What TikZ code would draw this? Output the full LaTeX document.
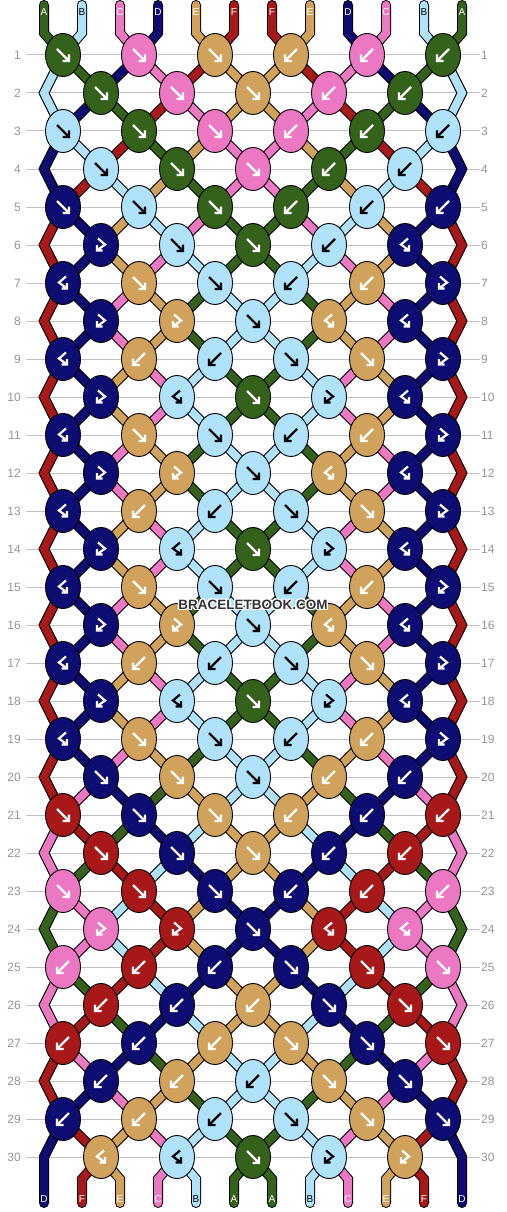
\documentclass[tikz,border=0pt]{standalone}
\usepackage{fontspec}
\setmainfont{Liberation Sans}
\usetikzlibrary{shapes.geometric}
\definecolor{colA}{RGB}{52,98,26}
\definecolor{colB}{RGB}{176,226,252}
\definecolor{colC}{RGB}{236,120,196}
\definecolor{colD}{RGB}{12,12,114}
\definecolor{colE}{RGB}{208,162,92}
\definecolor{colF}{RGB}{168,24,24}
\colorlet{arrA}{white}\colorlet{arrB}{black}\colorlet{arrC}{white}
\colorlet{arrD}{white}\colorlet{arrE}{white}\colorlet{arrF}{white}
\definecolor{gridgray}{RGB}{192,192,192}
\definecolor{lblgray}{RGB}{150,150,150}
\definecolor{wmgray}{RGB}{51,51,51}
\tikzset{
  segout/.style={line width=10pt, draw=black, line cap=butt},
  segin/.style={line width=8pt, line cap=butt},
  edgeout/.style={line width=10pt, draw=black, line join=miter, line cap=butt},
  edgein/.style={line width=8pt, line join=miter, line cap=butt},
  endout/.style={line width=10pt, draw=black, line join=miter, line cap=round},
  endin/.style={line width=8pt, line join=miter, line cap=round},
  knot/.style={ellipse, draw=black, line width=0.9pt, minimum width=35pt, minimum height=43pt, inner sep=0pt, outer sep=0pt},
  glyph/.style={line width=2.2pt, line cap=butt, line join=miter},
  gridline/.style={draw=gridgray, line width=1pt},
  rowlbl/.style={text=lblgray, font=\fontsize{12}{14}\selectfont, inner sep=0pt},
  strlbl/.style={font=\fontsize{10}{12}\selectfont, inner sep=0pt},
  wm/.style={font=\bfseries\fontsize{13.5}{15}\selectfont, inner sep=0pt},
  gf/.pic={\draw[glyph] (-6,-6)--(6,6) (-0.5,6)--(6,6)--(6,-0.5);},
  gb/.pic={\draw[glyph] (6,-6)--(-6,6) (0.5,6)--(-6,6)--(-6,-0.5);},
  gfb/.pic={\draw[glyph] (-3,-6.5)--(4,-0.5)--(-4,5.5) (-4,0)--(-4,5.5)--(1.5,5.5);},
  gbf/.pic={\draw[glyph] (3,-6.5)--(-4,-0.5)--(4,5.5) (4,0)--(4,5.5)--(-1.5,5.5);},
}
\def\states{%
0/{A,B,C,D,E,F,F,E,D,C,B,A},%
1/{B,A,D,C,F,E,E,F,C,D,A,B},%
2/{B,D,A,F,C,E,E,C,F,A,D,B},%
3/{D,B,F,A,E,C,C,E,A,F,B,D},%
4/{D,F,B,E,A,C,C,A,E,B,F,D},%
5/{F,D,E,B,C,A,A,C,B,E,D,F},%
6/{F,D,E,C,B,A,A,B,C,E,D,F},%
7/{F,D,C,E,A,B,B,A,E,C,D,F},%
8/{F,D,C,E,A,B,B,A,E,C,D,F},%
9/{F,D,E,C,B,A,A,B,C,E,D,F},%
10/{F,D,E,C,B,A,A,B,C,E,D,F},%
11/{F,D,C,E,A,B,B,A,E,C,D,F},%
12/{F,D,C,E,A,B,B,A,E,C,D,F},%
13/{F,D,E,C,B,A,A,B,C,E,D,F},%
14/{F,D,E,C,B,A,A,B,C,E,D,F},%
15/{F,D,C,E,A,B,B,A,E,C,D,F},%
16/{F,D,C,E,A,B,B,A,E,C,D,F},%
17/{F,D,E,C,B,A,A,B,C,E,D,F},%
18/{F,D,E,C,B,A,A,B,C,E,D,F},%
19/{F,D,C,E,A,B,B,A,E,C,D,F},%
20/{F,C,D,A,E,B,B,E,A,D,C,F},%
21/{C,F,A,D,B,E,E,B,D,A,F,C},%
22/{C,A,F,B,D,E,E,D,B,F,A,C},%
23/{A,C,B,F,E,D,D,E,F,B,C,A},%
24/{A,C,B,F,E,D,D,E,F,B,C,A},%
25/{C,A,F,B,D,E,E,D,B,F,A,C},%
26/{C,F,A,D,B,E,E,B,D,A,F,C},%
27/{F,C,D,A,E,B,B,E,A,D,C,F},%
28/{F,D,C,E,A,B,B,A,E,C,D,F},%
29/{D,F,E,C,B,A,A,B,C,E,F,D},%
30/{D,F,E,C,B,A,A,B,C,E,F,D}}
\def\knotrows{%
1/{A/1,C/1,E/1,E/2,C/2,A/2},%
2/{A/1,C/1,E/1,C/2,A/2},%
3/{B/1,A/1,C/1,C/2,A/2,B/2},%
4/{B/1,A/1,C/1,A/2,B/2},%
5/{D/1,B/1,A/1,A/2,B/2,D/2},%
6/{D/3,B/1,A/1,B/2,D/4},%
7/{D/4,E/1,B/1,B/2,E/2,D/3},%
8/{D/3,E/3,B/1,E/4,D/4},%
9/{D/4,E/2,B/2,B/1,E/1,D/3},%
10/{D/3,B/4,A/1,B/3,D/4},%
11/{D/4,E/1,B/1,B/2,E/2,D/3},%
12/{D/3,E/3,B/1,E/4,D/4},%
13/{D/4,E/2,B/2,B/1,E/1,D/3},%
14/{D/3,B/4,A/1,B/3,D/4},%
15/{D/4,E/1,B/1,B/2,E/2,D/3},%
16/{D/3,E/3,B/1,E/4,D/4},%
17/{D/4,E/2,B/2,B/1,E/1,D/3},%
18/{D/3,B/4,A/1,B/3,D/4},%
19/{D/4,E/1,B/1,B/2,E/2,D/3},%
20/{D/1,E/1,B/1,E/2,D/2},%
21/{F/1,D/1,E/1,E/2,D/2,F/2},%
22/{F/1,D/1,E/1,D/2,F/2},%
23/{C/1,F/1,D/1,D/2,F/2,C/2},%
24/{C/3,F/3,D/1,F/4,C/4},%
25/{C/2,F/2,D/2,D/1,F/1,C/1},%
26/{F/2,D/2,E/2,D/1,F/1},%
27/{F/2,D/2,E/2,E/1,D/1,F/1},%
28/{D/2,E/2,B/2,E/1,D/1},%
29/{D/2,E/2,B/2,B/1,E/1,D/1},%
30/{E/4,B/4,A/1,B/3,E/3}}
\begin{document}
\begin{tikzpicture}[x=1pt,y=-1pt]
\useasboundingbox (0,0) rectangle (506,1212);
\fill[white] (0,0) rectangle (506,1212);
% row guide lines and numbers
\foreach \r in {1,...,30}{
  \pgfmathsetmacro\yy{55+38*(\r-1)}
  \draw[gridline] (26,\yy) -- (480,\yy);
  \node[rowlbl, anchor=east] (L-\r) at (21,\yy) {\r};
  \node[rowlbl, anchor=west] (R-\r) at (481,\yy) {\r};
}
% string positions
\foreach \p in {0,...,11}{
  \pgfmathsetmacro\xx{44+38*\p}
  \coordinate (T-\p) at (\xx,5);
  \coordinate (P-0-\p) at (\xx,33);
  \coordinate (P-31-\p) at (\xx,1179);
  \coordinate (U-\p) at (\xx,1203);
}
\foreach \r in {1,...,30}{
  \pgfmathsetmacro\yy{55+38*(\r-1)}
  \foreach \p in {0,...,11}{
    \pgfmathsetmacro\xx{isodd(\r) ? 63+76*floor(\p/2) : (\p==0 ? 44 : (\p==11 ? 462 : 101+76*floor((\p-1)/2)))}
    \coordinate (P-\r-\p) at (\xx,\yy);
  }
}
% inner segments: outline pass
\foreach \r/\s in \states {
  \ifnum\r>0 \ifnum\r<30
    \pgfmathtruncatemacro\rn{\r+1}
    \foreach \c [count=\p from 0] in \s {\draw[segout] (P-\r-\p) -- (P-\rn-\p);}
  \fi\fi
}
% inner segments: colour pass
\foreach \r/\s in \states {
  \ifnum\r>0 \ifnum\r<30
    \pgfmathtruncatemacro\rn{\r+1}
    \foreach \c [count=\p from 0] in \s {\draw[segin, draw=col\c] (P-\r-\p) -- (P-\rn-\p);}
  \fi\fi
}
% edge strings on even rows
\foreach \r/\s in \states {
  \ifodd\r\else\ifnum\r>0 \ifnum\r<30
    \pgfmathtruncatemacro\rp{\r-1}
    \pgfmathtruncatemacro\rn{\r+1}
    \foreach \c [count=\p from 0] in \s {
      \ifnum\p=0
        \draw[edgeout] (P-\rp-0) -- (P-\r-0) -- (P-\rn-0);
        \draw[edgein, draw=col\c] (P-\rp-0) -- (P-\r-0) -- (P-\rn-0);
      \fi
      \ifnum\p=11
        \draw[edgeout] (P-\rp-11) -- (P-\r-11) -- (P-\rn-11);
        \draw[edgein, draw=col\c] (P-\rp-11) -- (P-\r-11) -- (P-\rn-11);
      \fi
    }
  \fi\fi\fi
}
% top ends
\foreach \c [count=\p from 0] in {A,B,C,D,E,F,F,E,D,C,B,A}{
  \draw[endout] (T-\p) -- (P-0-\p) -- (P-1-\p);
  \draw[endin, draw=col\c] (T-\p) -- (P-0-\p) -- (P-1-\p);
}
% bottom ends
\foreach \c [count=\p from 0] in {D,F,E,C,B,A,A,B,C,E,F,D}{
  \ifnum\p=0
    \draw[endout] (P-29-\p) -- (P-30-\p) -- (P-31-\p) -- (U-\p);
    \draw[endin, draw=col\c] (P-29-\p) -- (P-30-\p) -- (P-31-\p) -- (U-\p);
  \else\ifnum\p=11
    \draw[endout] (P-29-\p) -- (P-30-\p) -- (P-31-\p) -- (U-\p);
    \draw[endin, draw=col\c] (P-29-\p) -- (P-30-\p) -- (P-31-\p) -- (U-\p);
  \else
    \draw[endout] (P-30-\p) -- (P-31-\p) -- (U-\p);
    \draw[endin, draw=col\c] (P-30-\p) -- (P-31-\p) -- (U-\p);
  \fi\fi
}
% knots
\foreach \r/\s in \knotrows {
  \pgfmathsetmacro\yy{55+38*(\r-1)}
  \foreach \c/\t [count=\k from 0] in \s {
    \pgfmathsetmacro\xx{isodd(\r) ? 63+76*\k : 101+76*\k}
    \node[knot, fill=col\c] (K-\r-\k) at (\xx,\yy) {};
    \ifcase\t\relax
    \or \pic[color=arr\c] at (K-\r-\k) {gf};
    \or \pic[color=arr\c] at (K-\r-\k) {gb};
    \or \pic[color=arr\c] at (K-\r-\k) {gfb};
    \or \pic[color=arr\c] at (K-\r-\k) {gbf};
    \fi
  }
}
% string letters
\foreach \c [count=\p from 0] in {A,B,C,D,E,F,F,E,D,C,B,A}{
  \node[strlbl, text=arr\c] (TL-\p) at ({44+38*\p},12) {\c};
}
\foreach \c [count=\p from 0] in {D,F,E,C,B,A,A,B,C,E,F,D}{
  \node[strlbl, text=arr\c] (BL-\p) at ({44+38*\p},1199) {\c};
}
% watermark
\foreach \dx/\dy [count=\i] in {-1/-1,-1/0,-1/1,0/-1,0/1,1/-1,1/0,1/1}{
  \node[wm, text=white] (WH-\i) at ({253+1.2*\dx},{605+1.2*\dy}) {BRACELETBOOK.COM};
}
\node[wm, text=wmgray] (WM) at (253,605) {BRACELETBOOK.COM};
\end{tikzpicture}
\end{document}
